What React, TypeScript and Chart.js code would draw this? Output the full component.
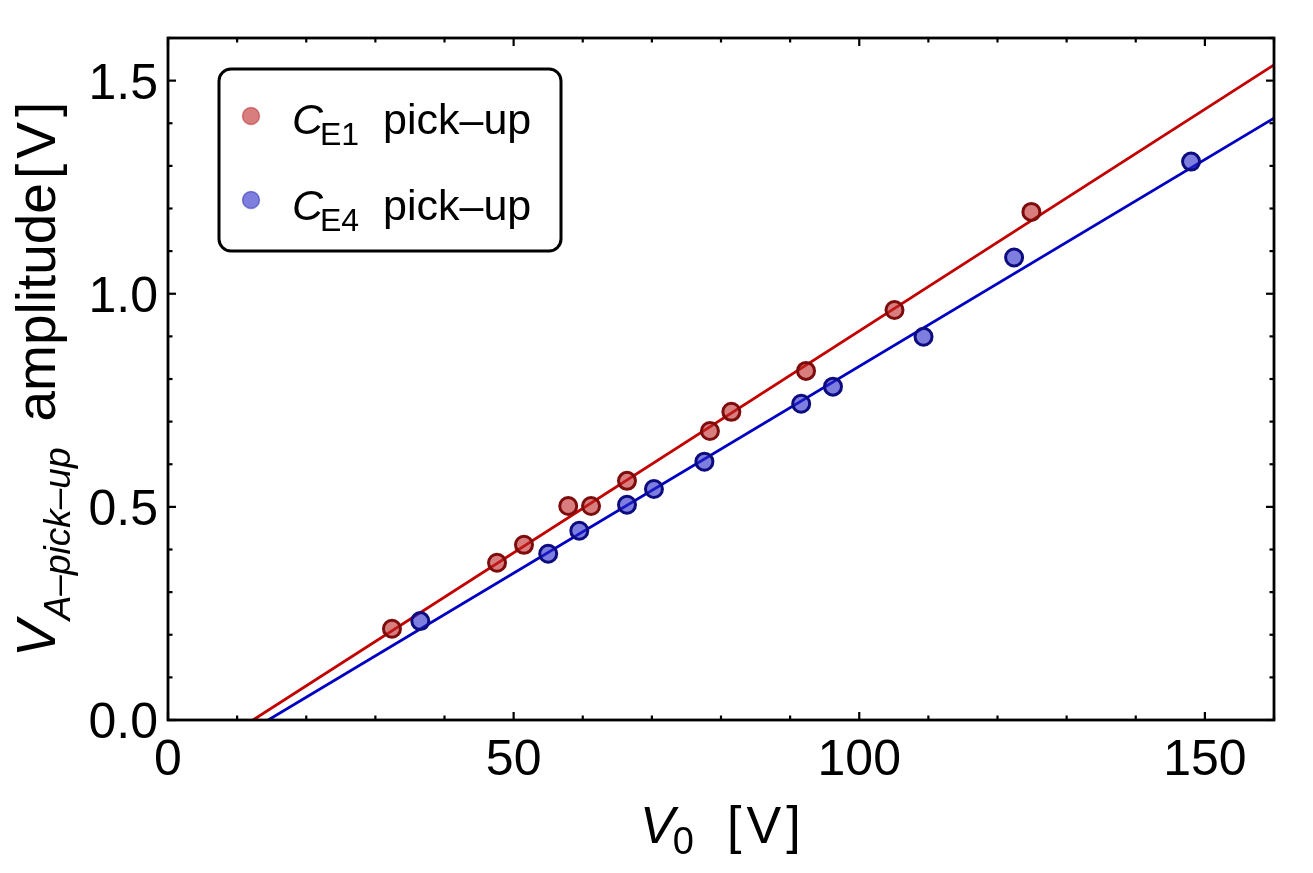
import React, { useEffect, useRef } from "react";
import { Chart, registerables } from "chart.js";

Chart.register(...registerables);

// ---- data ----
const e1X = [32.4, 47.6, 51.5, 57.9, 61.2, 66.4, 78.4, 81.5, 92.3, 105.1, 124.9];
const e1Y = [0.214, 0.369, 0.411, 0.502, 0.502, 0.561, 0.678, 0.723, 0.819, 0.962, 1.192];
const e4X = [36.5, 55.0, 59.5, 66.4, 70.3, 77.6, 91.6, 96.2, 109.3, 122.4, 148.0];
const e4Y = [0.232, 0.39, 0.444, 0.505, 0.542, 0.606, 0.742, 0.782, 0.899, 1.085, 1.31];
const e1FitX = [12.3, 160];
const e1FitY = [0, 1.537];
const e4FitX = [14.5, 160];
const e4FitY = [0, 1.412];

const xMajorTicks = [0, 50, 100, 150];
const xTickLabels = ["0", "50", "100", "150"];
const xMinorTicks = [10, 20, 30, 40, 60, 70, 80, 90, 110, 120, 130, 140, 160];
const yMajorTicks = [0, 0.5, 1.0, 1.5];
const yTickLabels = ["0.0", "0.5", "1.0", "1.5"];
const yMinorTicks = [0.1, 0.2, 0.3, 0.4, 0.6, 0.7, 0.8, 0.9, 1.1, 1.2, 1.3, 1.4, 1.6];

const legendLabels = [
  { main: "C", sub: "E1", rest: "pick\u2013up" },
  { main: "C", sub: "E4", rest: "pick\u2013up" },
];

const RED_FILL = "rgba(190,40,40,0.6)";
const RED_EDGE = "#7e0c0c";
const RED_LINE = "#c20000";
const BLUE_FILL = "rgba(40,40,200,0.6)";
const BLUE_EDGE = "#0c0c80";
const BLUE_LINE = "#0000c2";

const FONT = "'Liberation Sans', Arial, sans-serif";

const zip = (xs: number[], ys: number[]) => xs.map((x, i) => ({ x, y: ys[i] }));

const framePlugin = {
  id: "framePlugin",
  afterDraw(chart: any) {
    const ctx: CanvasRenderingContext2D = chart.ctx;
    const { left, right, top, bottom } = chart.chartArea;
    const xs = chart.scales.x;
    const ys = chart.scales.y;
    ctx.save();
    ctx.strokeStyle = "#000";
    ctx.fillStyle = "#000";

    // ticks
    ctx.lineWidth = 2.2;
    const tick = (x1: number, y1: number, x2: number, y2: number) => {
      ctx.beginPath();
      ctx.moveTo(x1, y1);
      ctx.lineTo(x2, y2);
      ctx.stroke();
    };
    xMajorTicks.forEach((v) => {
      const p = xs.getPixelForValue(v);
      tick(p, bottom, p, bottom - 8);
      tick(p, top, p, top + 8);
    });
    xMinorTicks.forEach((v) => {
      const p = xs.getPixelForValue(v);
      tick(p, bottom, p, bottom - 4.5);
      tick(p, top, p, top + 4.5);
    });
    yMajorTicks.forEach((v) => {
      const p = ys.getPixelForValue(v);
      tick(left, p, left + 8, p);
      tick(right, p, right - 8, p);
    });
    yMinorTicks.forEach((v) => {
      const p = ys.getPixelForValue(v);
      tick(left, p, left + 4.5, p);
      tick(right, p, right - 4.5, p);
    });

    // frame
    ctx.lineWidth = 2.8;
    ctx.strokeRect(left, top, right - left, bottom - top);

    // tick labels
    ctx.font = `50px ${FONT}`;
    ctx.textAlign = "center";
    ctx.textBaseline = "alphabetic";
    xMajorTicks.forEach((v, i) => {
      ctx.fillText(xTickLabels[i], xs.getPixelForValue(v), 775);
    });
    ctx.textAlign = "right";
    yMajorTicks.forEach((v, i) => {
      ctx.fillText(yTickLabels[i], 158, ys.getPixelForValue(v) + 18);
    });

    // x title: V_0 [V]
    ctx.textAlign = "left";
    let cx = 640;
    const xb = 843;
    ctx.font = `italic 52px ${FONT}`;
    ctx.fillText("V", cx, xb);
    cx += ctx.measureText("V").width;
    ctx.font = `38px ${FONT}`;
    ctx.fillText("0", cx - 2, xb + 11);
    cx = 727;
    ctx.font = `52px ${FONT}`;
    ctx.fillText("[", cx, xb);
    cx += ctx.measureText("[").width + 5;
    ctx.fillText("V", cx, xb);
    cx += ctx.measureText("V").width + 5;
    ctx.fillText("]", cx, xb);

    // y title (rotated)
    ctx.save();
    ctx.translate(55, 657);
    ctx.rotate(-Math.PI / 2);
    let t = 0;
    ctx.font = `italic 55px ${FONT}`;
    ctx.fillText("V", t, 0);
    t += ctx.measureText("V").width;
    ctx.font = `italic 37px ${FONT}`;
    ctx.fillText("A\u2013pick\u2013up", t, 15);
    t += ctx.measureText("A\u2013pick\u2013up").width + 26;
    ctx.font = `55px ${FONT}`;
    ctx.fillText("amplitude", t, 0);
    t += ctx.measureText("amplitude").width + 4;
    ctx.fillText("[", t, 0);
    t += ctx.measureText("[").width + 5;
    ctx.fillText("V", t, 0);
    t += ctx.measureText("V").width + 5;
    ctx.fillText("]", t, 0);
    ctx.restore();

    // legend
    ctx.beginPath();
    (ctx as any).roundRect(219, 69, 342, 182, 12);
    ctx.fillStyle = "#fff";
    ctx.fill();
    ctx.lineWidth = 3;
    ctx.strokeStyle = "#000";
    ctx.stroke();

    const rows = [
      { fill: RED_FILL, edge: "rgba(180,40,40,0.5)", my: 116, base: 134 },
      { fill: BLUE_FILL, edge: "rgba(40,40,180,0.5)", my: 200, base: 220 },
    ];
    rows.forEach((r, i) => {
      ctx.beginPath();
      ctx.arc(251, r.my, 8.5, 0, Math.PI * 2);
      ctx.fillStyle = r.fill;
      ctx.fill();
      ctx.lineWidth = 1.5;
      ctx.strokeStyle = r.edge;
      ctx.stroke();
      const lab = legendLabels[i];
      ctx.fillStyle = "#000";
      ctx.textAlign = "left";
      ctx.font = `italic 43px ${FONT}`;
      ctx.fillText(lab.main, 292, r.base);
      ctx.font = `32px ${FONT}`;
      ctx.fillText(lab.sub, 320, r.base + 11);
      ctx.font = `43px ${FONT}`;
      ctx.fillText(lab.rest, 383, r.base);
    });

    ctx.restore();
  },
};

export default function App() {
  const ref = useRef<HTMLCanvasElement | null>(null);
  useEffect(() => {
    if (!ref.current) return;
    const chart = new Chart(ref.current, {
      type: "scatter",
      data: {
        datasets: [
          {
            label: "CE1 fit",
            data: zip(e1FitX, e1FitY),
            showLine: true,
            borderColor: RED_LINE,
            borderWidth: 2.8,
            pointRadius: 0,
            order: 3,
          },
          {
            label: "CE4 fit",
            data: zip(e4FitX, e4FitY),
            showLine: true,
            borderColor: BLUE_LINE,
            borderWidth: 2.8,
            pointRadius: 0,
            order: 3,
          },
          {
            label: "CE1 pick-up",
            data: zip(e1X, e1Y),
            backgroundColor: RED_FILL,
            borderColor: RED_EDGE,
            borderWidth: 3,
            pointRadius: 8.5,
            order: 2,
          },
          {
            label: "CE4 pick-up",
            data: zip(e4X, e4Y),
            backgroundColor: BLUE_FILL,
            borderColor: BLUE_EDGE,
            borderWidth: 3,
            pointRadius: 8.5,
            order: 1,
          },
        ],
      },
      options: {
        responsive: false,
        animation: false,
        devicePixelRatio: 1,
        layout: { padding: { left: 168, top: 38, right: 39, bottom: 153 } },
        plugins: { legend: { display: false }, tooltip: { enabled: false } },
        scales: {
          x: { type: "linear", min: 0, max: 160, display: false },
          y: { type: "linear", min: 0, max: 1.6, display: false },
        },
      },
      plugins: [framePlugin],
    });
    return () => chart.destroy();
  }, []);
  return (
    <div style={{ position: "absolute", left: 0, top: 0, width: 1313, height: 873, background: "#fff" }}>
      <canvas ref={ref} width={1313} height={873} />
    </div>
  );
}
